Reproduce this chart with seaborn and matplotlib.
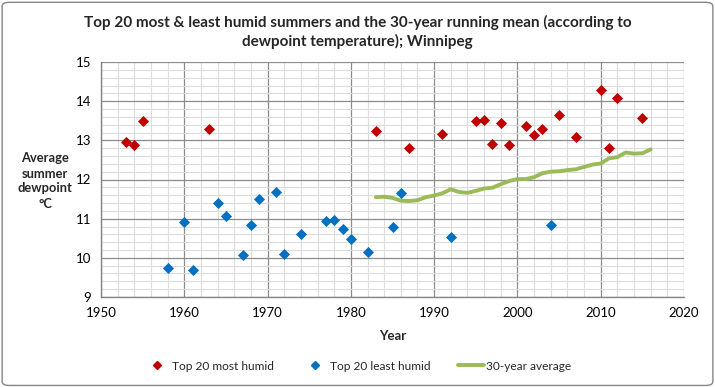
import numpy as np
import pandas as pd
import matplotlib
matplotlib.use("Agg")
import matplotlib.pyplot as plt
import seaborn as sns
from matplotlib.lines import Line2D
from matplotlib.patches import FancyBboxPatch
from matplotlib.ticker import MultipleLocator

# Data
humid_years = [1953, 1954, 1955, 1963, 1983, 1987, 1991, 1995, 1996, 1997, 1998,
               1999, 2001, 2002, 2003, 2005, 2007, 2010, 2011, 2012, 2015]
humid_vals = [12.96, 12.87, 13.50, 13.30, 13.24, 12.81, 13.17, 13.50, 13.53, 12.91, 13.45,
              12.89, 13.37, 13.14, 13.30, 13.65, 13.09, 14.29, 12.81, 14.09, 13.58]

dry_years = [1958, 1960, 1961, 1964, 1965, 1967, 1968, 1969, 1971, 1972, 1974,
             1977, 1978, 1979, 1980, 1982, 1985, 1986, 1992, 2004]
dry_vals = [9.73, 10.92, 9.70, 11.39, 11.08, 10.08, 10.85, 11.50, 11.67, 10.11, 10.61,
            10.95, 10.97, 10.74, 10.47, 10.16, 10.79, 11.66, 10.54, 10.85]

avg_years = list(range(1983, 2017))
avg_vals = [11.55, 11.56, 11.53, 11.46, 11.45, 11.47, 11.55, 11.59, 11.65, 11.75,
            11.68, 11.66, 11.71, 11.77, 11.79, 11.88, 11.96, 12.01, 12.01, 12.06,
            12.16, 12.20, 12.21, 12.24, 12.26, 12.32, 12.38, 12.41, 12.54, 12.57,
            12.69, 12.66, 12.67, 12.77]

legend_labels = ["Top 20 most humid", "Top 20 least humid", "30-year average"]
title = "Top 20 most & least humid summers and the 30-year running mean (according to\ndewpoint temperature); Winnipeg"

RED = "#C00000"
BLUE = "#0070C0"
GREEN = "#9BBB59"

sns.set_style("white")
plt.rcParams["font.family"] = ["Lato", "DejaVu Sans"]

fig = plt.figure(figsize=(7.15, 3.87), dpi=100)
ax = fig.add_axes([101/715, 90/387, 583/715, 235/387])

df_h = pd.DataFrame({"year": humid_years, "val": humid_vals})
df_d = pd.DataFrame({"year": dry_years, "val": dry_vals})
df_a = pd.DataFrame({"year": avg_years, "val": avg_vals})

sns.lineplot(data=df_a, x="year", y="val", ax=ax, color=GREEN, linewidth=2.8,
             zorder=3, legend=False)
sns.scatterplot(data=df_h, x="year", y="val", ax=ax, color=RED, marker="D", s=32,
                linewidth=0, zorder=4, legend=False)
sns.scatterplot(data=df_d, x="year", y="val", ax=ax, color=BLUE, marker="D", s=32,
                linewidth=0, zorder=4, legend=False)

ax.set_xlim(1950, 2020)
ax.set_ylim(9, 15)
ax.xaxis.set_major_locator(MultipleLocator(10))
ax.xaxis.set_minor_locator(MultipleLocator(2))
ax.yaxis.set_major_locator(MultipleLocator(1))
ax.yaxis.set_minor_locator(MultipleLocator(0.2))
ax.grid(which="major", color="#8c8c8c", linewidth=0.9, zorder=1)
ax.grid(which="minor", color="#dcdcdc", linewidth=0.8, zorder=0)
ax.set_axisbelow(True)
for side in ["top", "right"]:
    ax.spines[side].set_visible(False)
for side in ["left", "bottom"]:
    ax.spines[side].set_color("#868686")
    ax.spines[side].set_linewidth(1.0)
ax.tick_params(which="major", length=5, width=1, color="#868686", labelsize=9.5,
               labelcolor="black", pad=2)
ax.tick_params(which="minor", length=0)
ax.set_xticks([1950, 1960, 1970, 1980, 1990, 2000, 2010, 2020])
ax.set_xticklabels([str(y) for y in [1950, 1960, 1970, 1980, 1990, 2000, 2010, 2020]])

ax.set_xlabel("Year", fontsize=9.5, fontweight="bold", labelpad=8)
ax.set_ylabel("")
fig.text(45/715, 1 - 181/387, "Average\nsummer\ndewpoint\n°C", ha="center", va="center",
         fontsize=9.3, fontweight="bold", linespacing=1.3)

fig.text(0.5, 1 - 32/387, title, ha="center", va="center", fontsize=11,
         fontweight="bold", linespacing=1.3)

handles = [
    Line2D([], [], marker="D", color=RED, linestyle="none", markersize=3.8),
    Line2D([], [], marker="D", color=BLUE, linestyle="none", markersize=3.8),
    Line2D([], [], color=GREEN, linewidth=2.8),
]
fig.legend(handles, legend_labels, loc="center", bbox_to_anchor=(0.5, 1 - 366/387),
           ncol=3, frameon=False, fontsize=8.6, handlelength=2.2, columnspacing=2.3,
           handletextpad=0.15)

border = FancyBboxPatch((0.003, 0.004), 0.994, 0.99, boxstyle="round,pad=0,rounding_size=0.01",
                        transform=fig.transFigure, fill=False, edgecolor="#868686",
                        linewidth=1.0)
fig.patches.append(border)

fig.savefig("out.png", dpi=100)
